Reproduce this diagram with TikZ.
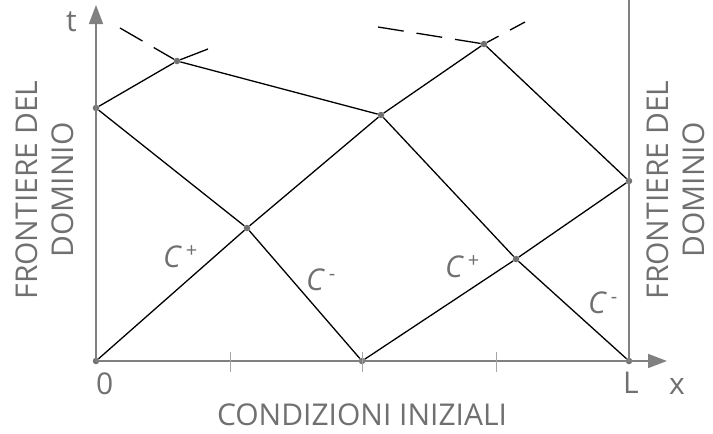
\documentclass[tikz,border=0pt]{standalone}
\usepackage{fontspec}
\setmainfont{Open Sans}
\usepackage{xcolor}
\usepackage{tikz}
\usetikzlibrary{arrows.meta}
\definecolor{axisgray}{RGB}{128,128,128}
\definecolor{textgray}{RGB}{112,112,112}
\definecolor{dotgray}{RGB}{112,112,112}
\newcommand{\charsup}[1]{\,\raisebox{0.62ex}{\upshape\fontsize{20}{20}\selectfont#1}}

\begin{document}
\begin{tikzpicture}[
  x=1pt, y=-1pt,
  axis/.style={draw=axisgray, line width=1.6pt},
  tick/.style={draw=axisgray!70, line width=1pt},
  charline/.style={draw=black, line width=1.3pt},
  front/.style={charline, dash pattern=on 26pt off 13pt},
  crossing/.style={circle, fill=dotgray, inner sep=0pt, minimum size=6.5pt},
  lbl/.style={text=textgray, inner sep=0pt,
              font=\fontsize{30}{36}\selectfont},
  charlbl/.style={lbl, anchor=base west,
                  font=\fontsize{30}{36}\selectfont\itshape}
]
\useasboundingbox (0,0) rectangle (713,434);

\node[crossing] (O) at (96,361) {};
\node[crossing] (A) at (96,108) {};
\node[crossing] (B) at (177,61) {};
\node[crossing] (C) at (247,228) {};
\node[crossing] (D) at (362,361) {};
\node[crossing] (E) at (381,115) {};
\node[crossing] (F) at (484,44) {};
\node[crossing] (G) at (516,259) {};
\node[crossing] (H) at (629,181) {};
\node[crossing] (L) at (629,361) {};

\coordinate (tend) at (96,5);
\coordinate (xend) at (667,361);
\coordinate (rtop) at (629,0);
\coordinate (bleft) at (120,28);
\coordinate (bright) at (208,49);
\coordinate (fleft) at (378,27);
\coordinate (fright) at (525,22);

% axes and right boundary
\draw[axis, -{Triangle[length=19pt, width=14pt]}] (O.center) -- (tend);
\draw[axis, -{Triangle[length=19pt, width=14pt]}] (O.center) -- (xend);
\draw[axis] (L.center) -- (rtop);
\foreach \tx in {230,362,496}
  \draw[tick] (\tx,352) -- (\tx,372);

% characteristics
\draw[charline] (O) -- (C) -- (E) -- (F);
\draw[charline] (A) -- (C) -- (D);
\draw[charline] (A) -- (B) -- (E);
\draw[charline] (E) -- (G) -- (L);
\draw[charline] (D) -- (G) -- (H);
\draw[charline] (F) -- (H);

% fronts
\draw[front] (bleft) -- (B);
\draw[front, dash pattern=on 40pt off 10pt] (bright) -- (B);
\draw[front] (fleft) -- (F);
\draw[front, dash pattern=on 17pt off 13pt] (fright) -- (F);

\node[lbl, anchor=base west] (tlbl) at (66,31) {t};
\node[lbl, anchor=base west] (xlbl) at (669,394) {x};
\node[lbl, anchor=base west] (zero) at (96,394) {0};
\node[lbl, anchor=base west] (Llbl) at (623,393) {L};
\node[lbl, anchor=base] (cond) at (362,425) {CONDIZIONI INIZIALI};
\node[lbl, rotate=90, align=center, font=\fontsize{30}{36.5}\selectfont]
  (frontl) at (45,190) {FRONTIERE DEL\\DOMINIO};
\node[lbl, rotate=90, align=center, font=\fontsize{30}{36.5}\selectfont]
  (frontr) at (676,190) {FRONTIERE DEL\\DOMINIO};

\node[charlbl] (cp1) at (163,267) {C\charsup{+}};
\node[charlbl] (cm1) at (306,290) {C\charsup{-}};
\node[charlbl] (cp2) at (445,277) {C\charsup{+}};
\node[charlbl] (cm2) at (588,313) {C\charsup{-}};
\end{tikzpicture}
\end{document}
